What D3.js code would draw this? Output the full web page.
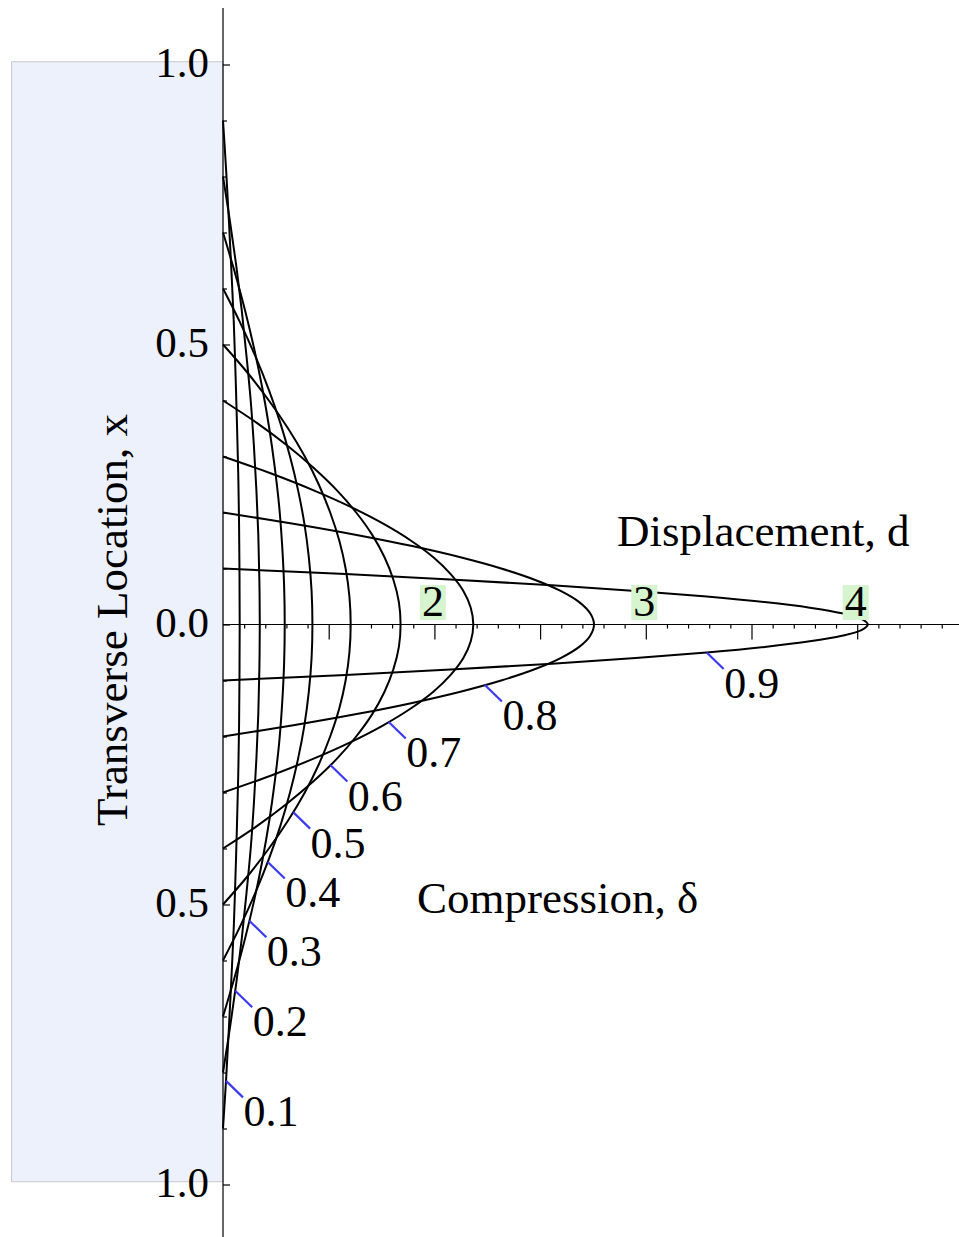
<!DOCTYPE html>
<html>
<head>
<meta charset="utf-8">
<script src="https://cdn.jsdelivr.net/npm/d3@7"></script>
<style>
  html, body { margin: 0; padding: 0; background: #fff; }
  svg { display: block; }
  text { font-family: "Liberation Serif", "Times New Roman", serif; fill: #000; }
</style>
</head>
<body>
<svg id="chart" width="959" height="1237"></svg>
<script>
// Compression levels, one profile per level
const compressions = [0.1, 0.2, 0.3, 0.4, 0.5, 0.6, 0.7, 0.8, 0.9];

// Half profiles [transverse location x, displacement d], from the wall edge to the centre line
const profile01 = [[0.90,1.000],[0.81,1.015],[0.72,1.028],[0.63,1.040],[0.54,1.051],[0.45,1.059],[0.36,1.066],[0.27,1.072],[0.18,1.076],[0.09,1.078],[0.00,1.079]];
const profile02 = [[0.80,1.000],[0.72,1.033],[0.64,1.063],[0.56,1.089],[0.48,1.111],[0.40,1.131],[0.32,1.146],[0.24,1.158],[0.16,1.167],[0.08,1.172],[0.00,1.174]];
const profile03 = [[0.70,1.000],[0.63,1.055],[0.56,1.105],[0.49,1.149],[0.42,1.187],[0.35,1.219],[0.28,1.245],[0.21,1.266],[0.14,1.280],[0.07,1.289],[0.00,1.292]];
const profile04 = [[0.60,1.000],[0.54,1.080],[0.48,1.152],[0.42,1.216],[0.36,1.271],[0.30,1.317],[0.24,1.355],[0.18,1.385],[0.12,1.406],[0.06,1.419],[0.00,1.423]];
const profile05 = [[0.50,1.000],[0.45,1.115],[0.40,1.217],[0.35,1.308],[0.30,1.387],[0.25,1.453],[0.20,1.507],[0.15,1.550],[0.10,1.580],[0.05,1.598],[0.00,1.604]];
const profile06 = [[0.40,1.000],[0.36,1.160],[0.32,1.302],[0.28,1.428],[0.24,1.538],[0.20,1.630],[0.16,1.706],[0.12,1.764],[0.08,1.806],[0.04,1.832],[0.00,1.840]];
const profile07 = [[0.30,1.000],[0.27,1.225],[0.24,1.426],[0.21,1.604],[0.18,1.758],[0.15,1.888],[0.12,1.995],[0.09,2.077],[0.06,2.137],[0.03,2.172],[0.00,2.184]];
const profile08 = [[0.20,1.000],[0.18,1.333],[0.16,1.632],[0.14,1.895],[0.12,2.123],[0.10,2.316],[0.08,2.474],[0.06,2.597],[0.04,2.685],[0.02,2.737],[0.00,2.755]];
const profile09 = [[0.10,1.000],[0.09,1.580],[0.08,2.098],[0.07,2.556],[0.06,2.952],[0.05,3.288],[0.04,3.562],[0.03,3.776],[0.02,3.928],[0.01,4.020],[0.00,4.050]];
const profiles = [profile01, profile02, profile03, profile04, profile05, profile06, profile07, profile08, profile09];

// Transverse location (lower half) where each compression tag points at its curve
const tagAt = [-0.815, -0.654, -0.529, -0.424, -0.335, -0.251, -0.174, -0.108, -0.050];

// Axis tick labels
const xLabelValues = [2, 3, 4];
const yLabelValues = [1.0, 0.5, 0.0, -0.5, -1.0];

// Rigid wall region
const wallD = [0, 1];
const wallX = [-0.995, 1.005];

const svg = d3.select("#chart");

const dScale = d3.scaleLinear().domain([1, 4]).range([223, 857.2]);
const xScale = d3.scaleLinear().domain([-1, 1]).range([1184.5, 64.5]);

// wall
svg.append("rect")
  .attr("x", dScale(wallD[0]))
  .attr("y", xScale(wallX[1]))
  .attr("width", dScale(wallD[1]) - dScale(wallD[0]))
  .attr("height", xScale(wallX[0]) - xScale(wallX[1]))
  .attr("fill", "#edf1fc")
  .attr("stroke", "#c8c8c8")
  .attr("stroke-width", 1);

// full symmetric profile from a half profile
const fullProfile = half => half.concat(half.slice(0, -1).reverse().map(([x, d]) => [-x, d]));

const line = d3.line()
  .x(p => dScale(p[1]))
  .y(p => xScale(p[0]))
  .curve(d3.curveCatmullRom.alpha(0.5));

svg.append("g").selectAll("path")
  .data(profiles)
  .join("path")
  .attr("d", p => line(fullProfile(p)))
  .attr("fill", "none")
  .attr("stroke", "#000")
  .attr("stroke-width", 2)
  .attr("stroke-linejoin", "round");

// horizontal axis (displacement)
const dMax = dScale.invert(959);
const dMinor = d3.range(11, Math.floor(dMax * 10) + 1).map(v => v / 10).filter(v => Math.round(v * 10) % 5 !== 0);
const dMajor = d3.range(3, Math.floor(dMax * 2) + 1).map(v => v / 2);

const axisY = xScale(0);
svg.append("line")
  .attr("x1", dScale(1)).attr("x2", 959)
  .attr("y1", axisY).attr("y2", axisY)
  .attr("stroke", "#000").attr("stroke-width", 1);

const gxMinor = svg.append("g").attr("transform", `translate(0,${axisY})`)
  .call(d3.axisBottom(dScale).tickValues(dMinor).tickSize(4).tickSizeOuter(0).tickFormat(""));
const gxMajor = svg.append("g").attr("transform", `translate(0,${axisY})`)
  .call(d3.axisBottom(dScale).tickValues(dMajor).tickSize(15).tickSizeOuter(0).tickFormat(""));
[gxMinor, gxMajor].forEach(g => {
  g.select(".domain").remove();
  g.selectAll(".tick line").attr("stroke", "#000").attr("stroke-width", 1.2);
});

// vertical axis (transverse location)
const axisX = dScale(1);
svg.append("line")
  .attr("x1", axisX).attr("x2", axisX)
  .attr("y1", 8).attr("y2", 1237)
  .attr("stroke", "#000").attr("stroke-width", 1.2);

const xMinor = d3.range(-10, 11).map(v => v / 10).filter(v => Math.round(v * 10) % 5 !== 0);
const gyMinor = svg.append("g").attr("transform", `translate(${axisX},0)`)
  .call(d3.axisRight(xScale).tickValues(xMinor).tickSize(4).tickSizeOuter(0).tickFormat(""));
const gyMajor = svg.append("g").attr("transform", `translate(${axisX},0)`)
  .call(d3.axisRight(xScale).tickValues(yLabelValues).tickSize(7).tickSizeOuter(0).tickFormat(""));
[gyMinor, gyMajor].forEach(g => {
  g.select(".domain").remove();
  g.selectAll(".tick line").attr("stroke", "#000").attr("stroke-width", 1.2);
});

const gyLabels = svg.append("g").attr("transform", `translate(${axisX},0)`)
  .call(d3.axisLeft(xScale).tickValues(yLabelValues).tickSize(0).tickPadding(14)
    .tickFormat(v => Math.abs(v).toFixed(1)));
gyLabels.select(".domain").remove();
gyLabels.selectAll(".tick text")
  .attr("font-size", 43)
  .attr("font-family", "Liberation Serif, serif")
  .attr("fill", "#000")
  .attr("dy", "0.27em");

// displacement labels on green patches
const xl = svg.append("g");
xLabelValues.forEach(v => {
  const g = xl.append("g");
  const rect = g.append("rect").attr("fill", "#d6f5cf");
  const t = g.append("text")
    .attr("x", dScale(v) - 1.5)
    .attr("y", 616)
    .attr("text-anchor", "middle")
    .attr("font-size", 44)
    .text(v);
  const bb = t.node().getBBox();
  rect.attr("x", bb.x - 2).attr("width", bb.width + 4)
      .attr("y", 616 - 31).attr("height", 35);
});

// compression tags
const tags = svg.append("g");
profiles.forEach((p, i) => {
  const interp = d3.scaleLinear().domain(p.map(q => q[0])).range(p.map(q => q[1]));
  const xv = tagAt[i];
  const px = dScale(interp(Math.abs(xv)));
  const py = xScale(xv);
  const ex = px + 17, ey = py + 16.5;
  tags.append("line")
    .attr("x1", px).attr("y1", py).attr("x2", ex).attr("y2", ey)
    .attr("stroke", "#3a3af2").attr("stroke-width", 2.2);
  tags.append("text")
    .attr("x", ex + 0.5)
    .attr("y", ey + 29)
    .attr("font-size", 44)
    .text(compressions[i].toFixed(1));
});

// axis titles
svg.append("text")
  .attr("x", 617).attr("y", 546)
  .attr("font-size", 45)
  .text("Displacement, d");

svg.append("text")
  .attr("x", 417).attr("y", 913)
  .attr("font-size", 45)
  .text("Compression, δ");

svg.append("text")
  .attr("transform", "translate(127,620) rotate(-90)")
  .attr("text-anchor", "middle")
  .attr("font-size", 45)
  .text("Transverse Location, x");
</script>
</body>
</html>
